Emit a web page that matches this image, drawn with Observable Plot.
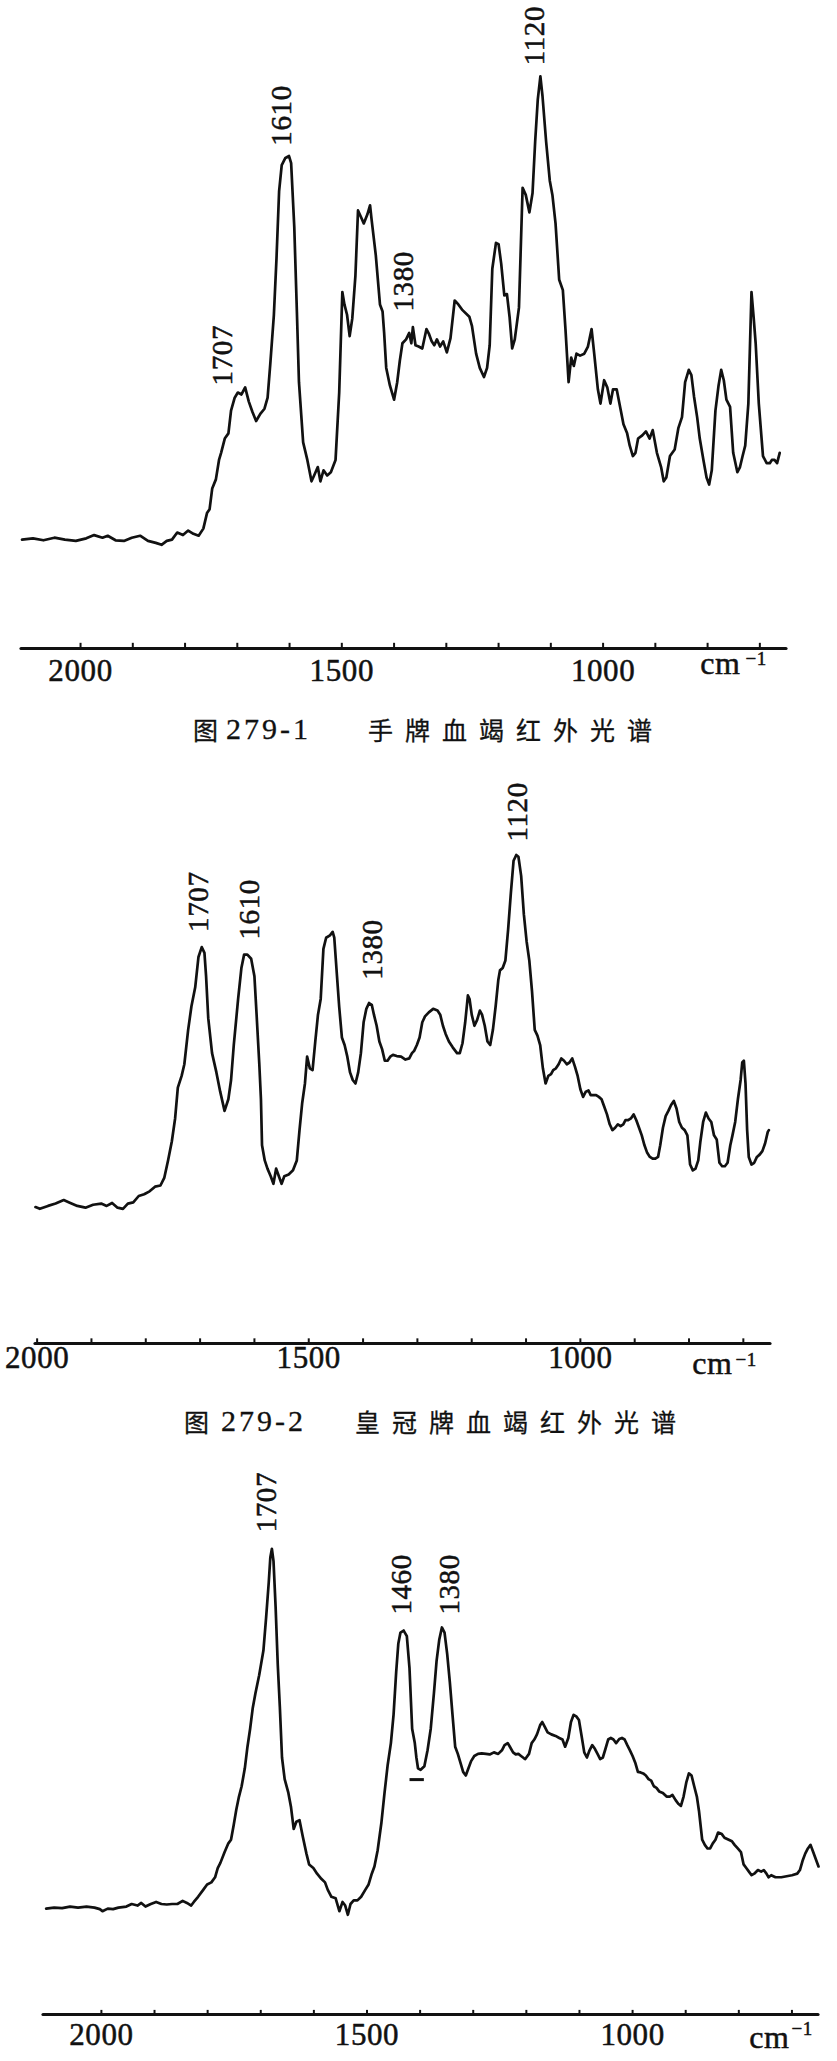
<!DOCTYPE html>
<html><head><meta charset="utf-8">
<script src="https://cdn.jsdelivr.net/npm/d3@7"></script>
<script src="https://cdn.jsdelivr.net/npm/@observablehq/plot@0.6"></script>
<style>
html,body{margin:0;padding:0;background:#fff;}
#page{position:relative;width:837px;height:2061px;overflow:hidden;background:#fff;}
.panel{position:absolute;left:0;}
.panel svg{overflow:visible;}
.panel svg text{letter-spacing:0.6px;}
.cap{position:absolute;white-space:nowrap;color:#111;line-height:30px;height:30px;-webkit-text-stroke:0.3px #111;}
.zh{font-family:"Noto Sans CJK SC";font-size:25px;}
.zht{font-family:"Noto Sans CJK SC";font-size:25px;letter-spacing:12px;}
.num{font-family:"Liberation Serif";font-size:30px;letter-spacing:3px;}
</style></head>
<body><div id="page">
<div id="p1" class="panel" style="top:0px"></div>
<div class="cap zh" style="left:193px;top:714px">图</div>
<div class="cap num" style="left:226px;top:714px">279-1</div>
<div class="cap zht" style="left:368px;top:714px">手牌血竭红外光谱</div>
<div id="p2" class="panel" style="top:740px"></div>
<div class="cap zh" style="left:184px;top:1406px">图</div>
<div class="cap num" style="left:221px;top:1406px">279-2</div>
<div class="cap zht" style="left:355px;top:1406px">皇冠牌血竭红外光谱</div>
<div id="p3" class="panel" style="top:1440px"></div>
</div>
<script>
// wavenumber (cm-1), relative absorbance (0 = baseline axis, 100 = top)
const spectrum1 = [[2112,16.8],[2091,17.0],[2071,16.7],[2050,17.1],[2030,16.8],[2009,16.6],[1989,17.0],[1974,17.5],[1958,17.1],[1948,17.4],[1933,16.7],[1917,16.6],[1902,17.1],[1886,17.4],[1871,16.6],[1856,16.3],[1845,16.0],[1835,16.6],[1825,16.8],[1815,17.9],[1804,17.5],[1794,18.2],[1784,17.7],[1774,17.4],[1765,18.5],[1758,20.9],[1753,21.5],[1748,24.7],[1741,26.1],[1735,29.1],[1731,30.2],[1724,32.4],[1717,33.2],[1712,36.7],[1705,38.7],[1699,39.5],[1692,39.2],[1685,40.3],[1678,38.1],[1671,36.5],[1664,35.1],[1656,36.2],[1648,37.0],[1642,38.7],[1637,43.8],[1630,51.5],[1625,60.2],[1620,70.6],[1615,74.6],[1608,75.7],[1601,76.0],[1597,74.9],[1591,65.1],[1586,52.0],[1582,41.1],[1574,31.8],[1566,29.1],[1558,25.8],[1553,26.7],[1546,28.0],[1541,25.8],[1535,27.5],[1528,26.7],[1521,27.2],[1512,29.1],[1505,39.5],[1499,55.0],[1495,53.1],[1490,51.5],[1485,48.2],[1480,50.9],[1474,57.5],[1469,67.6],[1464,66.7],[1458,65.6],[1451,67.0],[1446,68.4],[1443,66.2],[1435,60.7],[1427,53.1],[1422,52.0],[1419,48.7],[1415,43.3],[1408,40.6],[1400,38.4],[1394,41.1],[1389,44.4],[1384,47.1],[1377,47.7],[1371,48.7],[1367,47.1],[1364,49.6],[1359,46.8],[1353,46.6],[1346,46.3],[1338,49.3],[1333,48.5],[1328,47.4],[1323,46.8],[1318,47.7],[1312,46.6],[1306,47.4],[1299,45.7],[1292,47.9],[1284,53.7],[1277,53.1],[1270,52.3],[1256,51.2],[1251,49.8],[1243,45.5],[1236,43.3],[1228,41.9],[1222,43.3],[1217,46.8],[1212,58.6],[1205,62.6],[1200,62.4],[1195,59.4],[1189,54.5],[1184,54.7],[1179,51.2],[1174,46.3],[1169,47.7],[1161,52.6],[1154,71.1],[1148,70.0],[1141,67.3],[1135,70.3],[1130,78.2],[1125,84.7],[1120,88.3],[1116,85.3],[1109,78.2],[1102,72.2],[1097,70.0],[1091,65.6],[1084,56.9],[1077,55.3],[1072,49.3],[1066,41.1],[1061,44.9],[1056,43.6],[1051,45.5],[1044,45.2],[1036,45.5],[1029,46.6],[1022,49.3],[1017,45.5],[1010,40.0],[1005,37.8],[998,41.4],[992,40.3],[986,37.8],[981,40.0],[974,40.0],[966,36.7],[961,34.6],[954,33.2],[949,31.3],[943,29.7],[938,30.2],[933,32.4],[925,32.9],[918,33.5],[911,32.4],[905,33.7],[897,30.2],[889,28.0],[884,25.8],[879,26.4],[872,29.7],[863,30.7],[856,34.0],[849,35.7],[843,41.1],[836,43.0],[831,42.2],[826,38.9],[820,35.7],[815,32.4],[808,29.1],[802,26.4],[797,25.3],[792,27.5],[785,36.7],[779,40.6],[774,43.0],[769,41.4],[764,38.4],[757,37.3],[751,30.2],[743,27.2],[738,28.0],[733,29.7],[728,31.3],[722,37.8],[716,55.0],[712,51.2],[708,47.1],[702,37.8],[694,29.7],[687,28.6],[681,28.6],[677,29.1],[672,29.1],[667,28.6],[662,30.2]];

const spectrum2 = [[2003,23.4],[1995,23.1],[1980,23.6],[1966,24.0],[1951,24.6],[1941,24.2],[1926,23.6],[1911,23.3],[1897,23.8],[1882,24.0],[1872,23.6],[1862,24.1],[1852,23.3],[1842,23.1],[1833,24.0],[1823,24.2],[1813,25.3],[1803,25.6],[1793,26.1],[1783,26.9],[1773,27.1],[1766,28.4],[1759,31.4],[1752,34.7],[1746,38.6],[1741,43.9],[1734,45.9],[1729,47.9],[1722,53.8],[1716,57.8],[1709,61.1],[1703,66.3],[1697,68.0],[1692,67.0],[1689,63.0],[1685,55.8],[1678,49.8],[1670,46.5],[1663,43.2],[1655,39.9],[1648,41.9],[1643,45.2],[1638,51.2],[1630,59.1],[1624,64.4],[1619,66.7],[1613,66.7],[1606,66.0],[1600,63.0],[1596,56.4],[1591,47.9],[1588,41.9],[1586,34.0],[1581,31.4],[1576,30.0],[1570,28.7],[1565,27.4],[1560,30.0],[1555,28.7],[1550,27.4],[1545,28.7],[1537,29.0],[1529,29.7],[1522,31.4],[1517,36.6],[1512,41.3],[1507,44.6],[1503,49.2],[1498,47.2],[1493,46.9],[1488,51.8],[1483,56.4],[1478,59.1],[1473,67.7],[1468,69.6],[1461,70.0],[1456,70.6],[1453,69.6],[1448,63.0],[1444,57.8],[1439,52.5],[1434,51.2],[1429,49.2],[1424,46.5],[1419,45.2],[1414,44.6],[1409,46.5],[1404,49.8],[1399,55.1],[1394,57.4],[1389,58.4],[1384,58.1],[1380,56.4],[1375,54.5],[1370,51.8],[1365,50.5],[1360,48.5],[1355,48.5],[1350,49.2],[1345,49.5],[1338,49.3],[1330,49.2],[1322,48.7],[1315,48.9],[1310,49.8],[1306,50.2],[1301,51.2],[1296,52.5],[1291,55.1],[1286,56.1],[1279,56.8],[1271,57.4],[1263,57.1],[1258,56.4],[1253,54.5],[1248,53.1],[1242,51.8],[1235,50.8],[1227,49.8],[1222,49.8],[1217,51.5],[1212,55.1],[1207,59.7],[1204,59.1],[1200,56.4],[1195,54.5],[1190,55.5],[1185,57.1],[1181,56.4],[1176,54.5],[1171,51.8],[1166,51.2],[1161,53.8],[1156,57.8],[1151,62.4],[1148,64.0],[1143,64.4],[1138,65.7],[1133,71.0],[1128,77.2],[1123,82.8],[1118,83.8],[1114,83.5],[1109,80.2],[1104,73.6],[1099,69.0],[1094,65.7],[1089,60.4],[1084,53.8],[1079,52.8],[1074,51.2],[1069,47.2],[1064,44.6],[1059,45.9],[1054,46.2],[1050,46.9],[1045,47.2],[1040,47.9],[1035,48.9],[1030,48.5],[1025,47.9],[1020,48.2],[1015,48.9],[1010,47.5],[1005,45.9],[1000,43.6],[995,42.3],[990,43.2],[985,43.4],[981,42.6],[976,42.6],[971,42.6],[966,42.3],[961,41.9],[956,40.6],[951,39.3],[946,37.6],[941,36.6],[936,37.0],[931,37.6],[926,37.3],[921,37.6],[917,38.3],[912,38.3],[907,38.6],[902,39.3],[897,38.3],[892,37.0],[887,35.7],[882,34.0],[877,32.7],[872,32.0],[867,31.7],[862,31.7],[857,32.0],[853,34.0],[848,37.0],[843,39.0],[838,39.9],[833,40.9],[828,41.6],[823,40.3],[818,38.0],[813,37.0],[808,36.6],[803,35.7],[798,30.7],[793,29.7],[788,30.0],[783,31.4],[779,34.7],[774,38.0],[769,39.6],[764,38.6],[759,38.0],[754,35.7],[749,35.0],[744,31.0],[739,30.4],[734,30.4],[729,31.0],[724,34.0],[720,35.7],[715,38.0],[710,41.9],[705,45.2],[702,48.2],[699,48.5],[696,44.6],[693,36.6],[690,32.0],[685,30.7],[680,31.0],[675,32.0],[670,32.4],[665,33.0],[660,34.3],[655,36.3],[653,36.6]];

const spectrum3 = [[2104,20.6],[2089,20.8],[2074,20.7],[2059,21.0],[2044,20.8],[2028,21.0],[2013,20.8],[2003,20.5],[1998,20.1],[1988,20.6],[1978,20.5],[1968,20.8],[1953,21.0],[1943,21.5],[1932,21.2],[1925,21.7],[1917,21.0],[1907,21.5],[1897,21.9],[1887,21.5],[1877,21.4],[1867,21.5],[1857,21.5],[1847,22.1],[1839,21.7],[1831,21.2],[1826,21.9],[1818,22.9],[1808,24.3],[1801,25.3],[1793,25.7],[1786,26.7],[1781,28.5],[1776,29.5],[1768,31.6],[1761,33.3],[1756,34.0],[1751,36.8],[1746,39.9],[1741,42.4],[1736,44.4],[1730,47.9],[1725,52.1],[1720,55.6],[1715,59.7],[1710,62.5],[1703,66.0],[1695,70.8],[1690,77.1],[1685,84.0],[1682,88.9],[1679,90.6],[1676,88.2],[1672,79.2],[1668,68.1],[1664,59.7],[1660,50.0],[1655,45.8],[1648,43.1],[1643,40.3],[1638,36.1],[1633,37.5],[1627,37.8],[1621,34.7],[1614,31.3],[1609,29.2],[1601,28.5],[1594,27.4],[1586,26.4],[1579,25.7],[1574,24.3],[1567,22.9],[1559,22.6],[1552,20.1],[1546,21.9],[1541,21.2],[1536,19.4],[1531,21.5],[1525,22.2],[1518,22.2],[1511,22.9],[1503,24.3],[1497,25.3],[1491,27.4],[1486,28.8],[1480,31.9],[1473,37.2],[1467,43.1],[1461,48.6],[1455,52.8],[1450,58.3],[1445,66.7],[1441,72.2],[1437,74.3],[1431,74.7],[1425,73.6],[1420,67.4],[1415,55.6],[1410,52.8],[1407,50.0],[1404,47.9],[1399,47.6],[1392,48.3],[1386,51.4],[1380,55.6],[1374,62.5],[1369,68.8],[1364,72.9],[1359,75.3],[1354,74.3],[1349,70.1],[1344,64.6],[1339,58.3],[1334,52.1],[1329,50.7],[1323,48.6],[1319,47.2],[1314,46.5],[1309,47.9],[1304,49.3],[1298,50.3],[1291,50.7],[1284,50.8],[1276,50.7],[1269,50.6],[1261,51.0],[1253,50.7],[1246,51.4],[1241,52.4],[1235,52.8],[1231,52.1],[1225,51.0],[1220,50.6],[1215,50.7],[1210,50.3],[1205,49.9],[1202,49.7],[1195,50.7],[1190,52.8],[1185,53.5],[1180,54.5],[1174,56.3],[1170,56.9],[1165,55.9],[1160,54.9],[1153,54.5],[1145,54.2],[1138,53.8],[1132,53.5],[1127,52.1],[1121,53.8],[1116,56.9],[1111,58.3],[1106,58.0],[1101,57.3],[1096,54.2],[1091,51.0],[1086,50.0],[1081,51.4],[1076,52.4],[1071,51.7],[1066,50.7],[1061,49.7],[1056,50.0],[1051,51.7],[1046,53.5],[1041,53.8],[1036,53.5],[1031,52.8],[1025,53.6],[1020,53.8],[1015,53.5],[1010,52.4],[1005,51.4],[1000,50.3],[995,49.0],[990,47.2],[985,47.1],[980,46.9],[975,46.5],[970,45.8],[965,45.5],[960,44.4],[955,44.1],[950,43.4],[943,43.1],[936,42.4],[930,42.4],[925,42.7],[919,41.7],[914,41.0],[909,40.6],[904,42.4],[899,45.1],[894,46.9],[889,46.5],[884,44.4],[879,42.4],[875,39.6],[869,34.0],[864,33.0],[859,32.3],[854,32.3],[849,33.3],[844,34.0],[839,35.4],[832,35.1],[827,34.4],[819,34.0],[813,33.7],[808,33.0],[802,32.3],[796,31.6],[791,29.2],[786,28.5],[781,27.8],[776,27.1],[771,27.4],[764,28.1],[758,27.8],[753,28.1],[748,27.4],[744,26.7],[739,27.1],[731,26.7],[720,26.7],[710,26.9],[700,27.1],[690,27.4],[685,28.1],[680,29.9],[675,31.3],[670,32.3],[665,33.0],[660,31.6],[655,30.2],[650,28.8]];

// peak annotations: label text, wavenumber where drawn, level of the label foot
const peaks1 = [{text:"1707",at:1728,level:40.6},{text:"1610",at:1615,level:77.6},{text:"1380",at:1382,level:52.0},{text:"1120",at:1130,level:90.0}];
const peaks2 = [{text:"1707",at:1703,level:70.6},{text:"1610",at:1608,level:69.3},{text:"1380",at:1382,level:62.4},{text:"1120",at:1116,level:86.1}];
const peaks3 = [{text:"1707",at:1688,level:93.8},{text:"1460",at:1435,level:77.8},{text:"1380",at:1344,level:77.8}];
const valleyMark3 = [{from:1419,to:1392,level:45.7}];

const ticks = [2000,1900,1800,1700,1600,1500,1400,1300,1200,1100,1000,900,800,700];
const tickLabels = [2000,1500,1000];
const unit = "cm", unitExp = "−1";

const SERIF = "Liberation Serif";
const INK = "#111";

function panel(el, cfg) {
  const {data, peaks, extra, width = 837, height, frameTop, frameBottom, left, right, domain,
         labelDy, tickLen, cmDx, cmDy, expDx, expDy} = cfg;
  const txt = {fill: INK, stroke: INK, strokeWidth: 0.5, fontFamily: SERIF};
  const marks = [
    Plot.ruleY([0], {stroke: INK, strokeWidth: 3.2, strokeLinecap: "round"}),
    Plot.ruleX(ticks, {x: d => d, y1: 0, y2: tickLen, stroke: INK, strokeWidth: 2}),
    Plot.line(data, {x: d => d[0], y: d => d[1], stroke: INK, strokeWidth: 2.7, strokeLinejoin: "round", strokeLinecap: "round"}),
    Plot.text(peaks, {x: "at", y: "level", text: "text", rotate: -90, textAnchor: "start", fontSize: 29, ...txt}),
    Plot.text(tickLabels, {x: d => d, text: d => String(d), frameAnchor: "bottom", dy: labelDy, fontSize: 31, ...txt}),
    Plot.text([unit], {text: d => d, frameAnchor: "bottom-right", textAnchor: "end", dx: cmDx, dy: cmDy, fontSize: 32, ...txt}),
    Plot.text([unitExp], {text: d => d, frameAnchor: "bottom-right", textAnchor: "start", dx: expDx, dy: expDy, fontSize: 19, ...txt})
  ];
  if (extra) marks.push(Plot.ruleY(extra, {y: "level", x1: "from", x2: "to", stroke: INK, strokeWidth: 3}));
  const chart = Plot.plot({
    width, height,
    marginTop: frameTop, marginBottom: height - frameBottom, marginLeft: left, marginRight: width - right,
    x: {domain, axis: null},
    y: {domain: [0, 100], range: [frameBottom, frameTop], axis: null},
    style: {background: "transparent", color: INK},
    marks
  });
  document.getElementById(el).appendChild(chart);
}

panel("p1", {data: spectrum1, peaks: peaks1, height: 700, frameTop: 0, frameBottom: 648, left: 21, right: 786,
  domain: [2113, 649], labelDy: 32, tickLen: 0.8, cmDx: -46, cmDy: 25, expDx: -41, expDy: 16});
panel("p2", {data: spectrum2, peaks: peaks2, height: 660, frameTop: 20, frameBottom: 603, left: 35, right: 770,
  domain: [2003, 650], labelDy: 24, tickLen: 0.8, cmDx: -38, cmDy: 30, expDx: -35, expDy: 22});
panel("p3", {data: spectrum3, peaks: peaks3, extra: valleyMark3, height: 621, frameTop: 60, frameBottom: 574, left: 43, right: 818,
  domain: [2109, 650], labelDy: 30, tickLen: 0.8, cmDx: -29, cmDy: 33, expDx: -27, expDy: 20});
</script>
</body></html>
